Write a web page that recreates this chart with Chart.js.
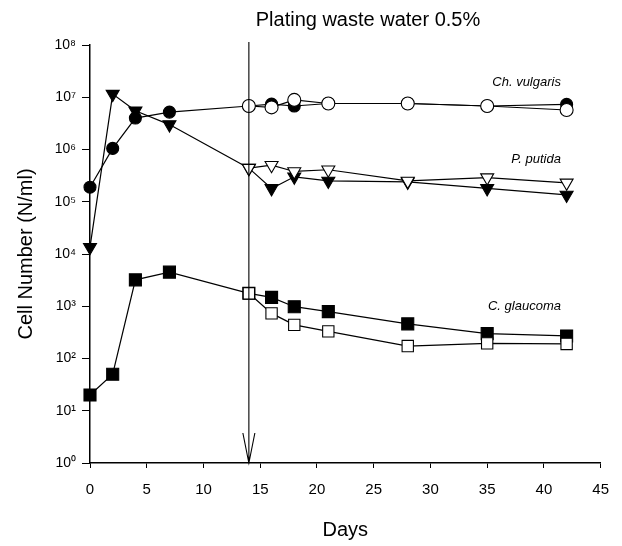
<!DOCTYPE html>
<html>
<head>
<meta charset="utf-8">
<script src="https://cdn.jsdelivr.net/npm/chart.js@4/dist/chart.umd.min.js"></script>
<style>
  html, body { margin: 0; padding: 0; background: #fff; }
  #wrap { width: 622px; height: 546px; }
</style>
</head>
<body>
<div id="wrap"><canvas id="myChart" width="622" height="546"></canvas></div>
<script>
// Datos
const tituloGrafica = 'Plating waste water 0.5%';
const dias = [0, 2, 4, 7, 14, 16, 18, 21, 28, 35, 42]; // días de muestreo
const diasTratados = [14, 16, 18, 21, 28, 35, 42]; // desde la adición (día 14)
const diaAdicion = 14; // flecha

// Ch. vulgaris (círculos)
const vulgarisControl = [1.9e5, 1.05e6, 4.0e6, 5.2e6, 6.8e6, 7.4e6, 6.8e6, 7.6e6, 7.6e6, 6.8e6, 7.3e6];
const vulgarisTratado = [6.8e6, 6.4e6, 8.9e6, 7.6e6, 7.6e6, 6.8e6, 5.7e6];

// P. putida (triángulos)
const putidaControl = [1.35e4, 1.15e7, 5.5e6, 3.0e6, 4.4e5, 1.8e5, 3.0e5, 2.5e5, 2.4e5, 1.8e5, 1.35e5];
const putidaTratado = [4.4e5, 5.0e5, 3.8e5, 4.1e5, 2.5e5, 2.9e5, 2.3e5];

// C. glaucoma (cuadrados)
const glaucomaControl = [20, 50, 3.2e3, 4.5e3, 1.77e3, 1.48e3, 980, 790, 460, 300, 270];
const glaucomaTratado = [1.77e3, 730, 440, 330, 173, 195, 190];

const ticksY = [1, 10, 100, 1e3, 1e4, 1e5, 1e6, 1e7, 1e8];
const superindices = ['⁰', '¹', '²', '³', '⁴', '⁵', '⁶', '⁷', '⁸'];

// Etiquetas de especies: [texto, valor y de referencia]
const etiquetas = [
  ['Ch. vulgaris', 1.9e7],
  ['P. putida', 6.5e5],
  ['C. glaucoma', 1.0e3]
];

const fuente = '"Liberation Sans", Arial, sans-serif';

function puntos(xs, ys) {
  return xs.map((x, i) => ({ x: x, y: ys[i] }));
}

// Serie con marcador relleno o vacío
function serie(label, xs, ys, estilo, relleno, radio, rot) {
  return {
    label: label,
    data: puntos(xs, ys),
    borderColor: '#000',
    borderWidth: 1.2,
    pointStyle: estilo,
    rotation: rot || 0,
    pointRadius: radio,
    pointBorderWidth: 1.1,
    pointBorderColor: '#000',
    pointBackgroundColor: relleno ? '#000' : '#fff',
    fill: false,
    clip: false,
    tension: 0
  };
}

// Plugin: título, nombres de especies y flecha del día 14
const extras = {
  id: 'extras',
  afterDatasetsDraw(chart) {
    const { ctx, scales } = chart;
    const x = scales.x.getPixelForValue(diaAdicion);
    const yTop = scales.y.getPixelForValue(1e8) - 3;
    const yBot = scales.y.getPixelForValue(1);
    ctx.save();
    ctx.strokeStyle = '#000';
    ctx.lineWidth = 1.1;
    ctx.beginPath();
    ctx.moveTo(x, yTop);
    ctx.lineTo(x, yBot);
    ctx.moveTo(x - 6, yBot - 30);
    ctx.lineTo(x, yBot);
    ctx.lineTo(x + 6, yBot - 30);
    ctx.stroke();

    ctx.fillStyle = '#000';
    ctx.textBaseline = 'middle';
    ctx.textAlign = 'center';
    ctx.font = '20px ' + fuente;
    ctx.fillText(tituloGrafica, 368, 20);

    ctx.font = 'italic 13px ' + fuente;
    ctx.textAlign = 'right';
    const xr = scales.x.getPixelForValue(41.5);
    etiquetas.forEach(([t, v]) => {
      ctx.fillText(t, xr, scales.y.getPixelForValue(v));
    });
    ctx.restore();
  }
};

const ctx = document.getElementById('myChart');
new Chart(ctx, {
  type: 'line',
  data: {
    datasets: [
      serie('Ch. vulgaris tratado', diasTratados, vulgarisTratado, 'circle', false, 6.5),
      serie('P. putida tratado', diasTratados, putidaTratado, 'triangle', false, 7.5, 180),
      serie('C. glaucoma tratado', diasTratados, glaucomaTratado, 'rect', false, 8),
      serie('Ch. vulgaris', dias, vulgarisControl, 'circle', true, 6),
      serie('P. putida', dias, putidaControl, 'triangle', true, 7.5, 180),
      serie('C. glaucoma', dias, glaucomaControl, 'rect', true, 8.5)
    ]
  },
  options: {
    responsive: false,
    animation: false,
    layout: { padding: { top: 45, right: 20, left: 0, bottom: 0 } },
    plugins: {
      legend: { display: false },
      tooltip: { enabled: false },
      title: { display: false }
    },
    scales: {
      x: {
        type: 'linear',
        min: 0,
        max: 45,
        ticks: { stepSize: 5, color: '#000', padding: 13, font: { family: fuente, size: 15 } },
        grid: { drawOnChartArea: false, color: '#000', tickLength: 5 },
        border: { color: '#000', width: 1.5 },
        title: { display: true, text: 'Days', color: '#000', font: { family: fuente, size: 20 }, padding: { top: 0, bottom: 4 } },
        afterFit(scale) { scale.height = 83; }
      },
      y: {
        type: 'logarithmic',
        min: 1,
        max: 1e8,
        afterBuildTicks(scale) {
          scale.ticks = ticksY.map(v => ({ value: v }));
        },
        ticks: {
          color: '#000',
          padding: 6,
          font: { family: fuente, size: 14 },
          callback: (v) => '10' + superindices[Math.round(Math.log10(v))]
        },
        grid: { drawOnChartArea: false, color: '#000', tickLength: 8 },
        border: { color: '#000', width: 1.5 },
        title: { display: true, text: 'Cell Number (N/ml)', color: '#000', font: { family: fuente, size: 20 }, padding: { top: 14, bottom: 0 } },
        afterFit(scale) { scale.width = 90; }
      }
    }
  },
  plugins: [extras]
});
</script>
</body>
</html>
